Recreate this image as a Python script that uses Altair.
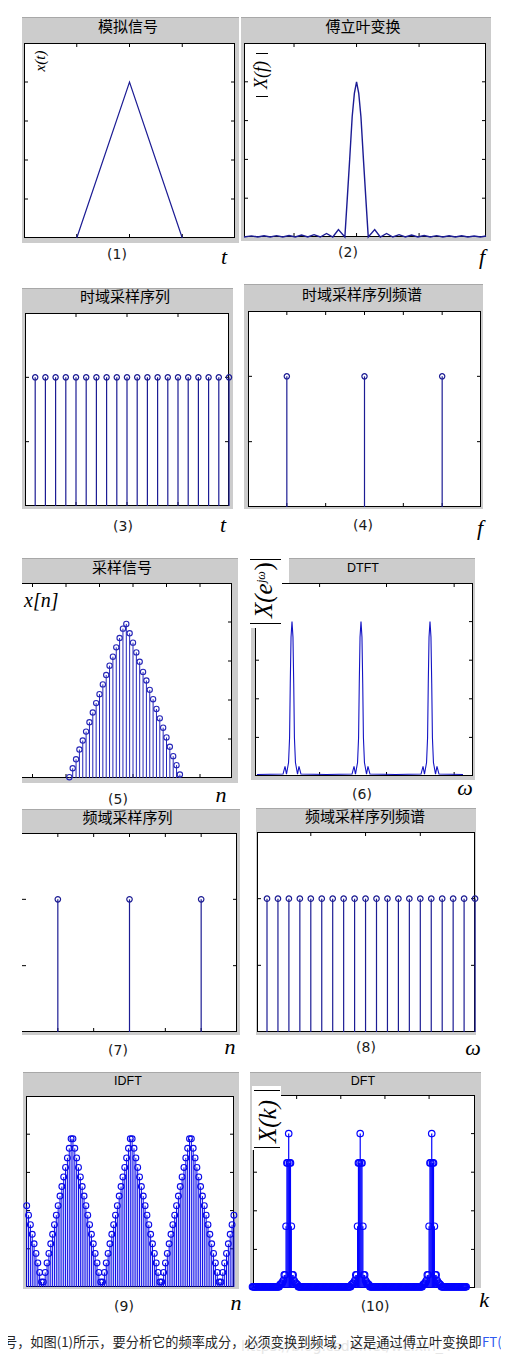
import altair as alt
import pandas as pd

# ====================== data ======================
# (1) analog signal x(t)
p1_t = [-2, 0, 2]
p1_x = [0.0, 0.8, 0.0]

# (2) |X(f)|
p2_f = [-1.80, -1.68, -1.58, -1.48, -1.38, -1.28, -1.18, -1.08, -0.98, -0.88,
        -0.78, -0.68, -0.58, -0.48, -0.38, -0.29, -0.187, -0.15, -0.11, -0.07,
        -0.035, 0.0, 0.035, 0.07, 0.11, 0.15, 0.187, 0.29, 0.38, 0.48,
        0.58, 0.68, 0.78, 0.88, 0.98, 1.08, 1.18, 1.28, 1.38, 1.48,
        1.58, 1.68, 1.78, 1.88, 1.98, 2.07]
p2_v = [0.0, 0.006, 0.0, 0.006, 0.0, 0.007, 0.0, 0.008, 0.0, 0.010,
        0.0, 0.012, 0.0, 0.018, 0.0, 0.038, 0.0, 0.19, 0.40, 0.62,
        0.74, 0.80, 0.74, 0.62, 0.40, 0.19, 0.0, 0.038, 0.0, 0.018,
        0.0, 0.012, 0.0, 0.010, 0.0, 0.008, 0.0, 0.007, 0.0, 0.006,
        0.0, 0.006, 0.0, 0.005, 0.0, 0.005]

# (3) time-domain sampling comb
p3_n = list(range(1, 21))
p3_v = [1, 1, 1, 1, 1, 1, 1, 1, 1, 1, 1, 1, 1, 1, 1, 1, 1, 1, 1, 1]

# (4) spectrum of the comb
p4_f = [-1, 0, 1]
p4_v = [1, 1, 1]

# (5) sampled signal x[n]
p5_n = list(range(1, 35))
p5_v = [0.02, 0.25, 0.48, 0.73, 0.96, 1.19, 1.43, 1.68, 1.92, 2.15, 2.40, 2.64,
        2.88, 3.11, 3.35, 3.59, 3.83, 3.95, 3.71, 3.47, 3.22, 2.98, 2.72, 2.50,
        2.26, 2.02, 1.77, 1.53, 1.29, 1.04, 0.80, 0.56, 0.33, 0.09]

# (6) DTFT: peak centres and the shape read around each peak
p6_centers = [-1, 0, 1]
p6_off = [-0.130, -0.101, -0.080, -0.050, -0.035, -0.025, -0.014, 0.0,
          0.014, 0.025, 0.035, 0.050, 0.080, 0.101, 0.130]
p6_val = [0.05, 0.25, 0.05, 0.35, 1.0, 2.4, 3.6, 4.0, 3.6, 2.4, 1.0, 0.35, 0.05, 0.25, 0.05]
p6_floor_w = [-1.507, -0.5, 0.5, 1.478]
p6_floor_v = [0.04, 0.04, 0.04, 0.04]

# (7) frequency-domain sampling comb
p7_n = [-1, 0, 1]
p7_v = [1, 1, 1]

# (8) its spectrum
p8_n = list(range(0, 20))
p8_v = [1, 1, 1, 1, 1, 1, 1, 1, 1, 1, 1, 1, 1, 1, 1, 1, 1, 1, 1, 1]

# (9) IDFT (time aliased triangles)
p9_n = list(range(0, 113))
p9_v = [2.13, 1.88, 1.63, 1.38, 1.13, 0.88, 0.63, 0.38, 0.13,
        0.13, 0.38, 0.63, 0.88, 1.13, 1.38, 1.63, 1.88, 2.13, 2.38, 2.63, 2.88, 3.13, 3.38, 3.63, 3.88,
        3.88, 3.63, 3.38, 3.13, 2.88, 2.63, 2.38, 2.13, 1.88, 1.63, 1.38, 1.13, 0.88, 0.63, 0.38, 0.13,
        0.13, 0.38, 0.63, 0.88, 1.13, 1.38, 1.63, 1.88, 2.13, 2.38, 2.63, 2.88, 3.13, 3.38, 3.63, 3.88,
        3.88, 3.63, 3.38, 3.13, 2.88, 2.63, 2.38, 2.13, 1.88, 1.63, 1.38, 1.13, 0.88, 0.63, 0.38, 0.13,
        0.13, 0.38, 0.63, 0.88, 1.13, 1.38, 1.63, 1.88, 2.13, 2.38, 2.63, 2.88, 3.13, 3.38, 3.63, 3.88,
        3.88, 3.63, 3.38, 3.13, 2.88, 2.63, 2.38, 2.13, 1.88, 1.63, 1.38, 1.13, 0.88, 0.63, 0.38, 0.13,
        0.13, 0.38, 0.63, 0.88, 1.13, 1.38, 1.63, 1.88]

# (10) DFT: floor level, peak bins and the values around each peak
p10_k = list(range(0, 243))
p10_floor = 0.03
p10_centers = [41, 122, 203]
p10_off = [-10, -9, -8, -7, -6, -5, -4, -3, -2, -1, 0, 1, 2, 3, 4, 5, 6, 7, 8, 9, 10]
p10_val = [0.08, 0.10, 0.12, 0.15, 0.20, 0.34, 0.34, 1.60, 3.24, 3.24, 4.00,
           3.24, 3.24, 1.60, 0.34, 0.34, 0.20, 0.15, 0.12, 0.10, 0.08]

titles = ["模拟信号", "傅立叶变换", "时域采样序列", "时域采样序列频谱", "采样信号",
          "DTFT", "频域采样序列", "频域采样序列频谱", "IDFT", "DFT"]
captions = ["(1)", "(2)", "(3)", "(4)", "(5)", "(6)", "(7)", "(8)", "(9)", "(10)"]
letters = ["t", "f", "t", "f", "n", "ω", "n", "ω", "n", "k"]
body_text_a = "信号，如图(1)所示，要分析它的频率成分，"
body_text_b = "必须变换到频域，这是通过傅立叶变换即"
link_text = "FT(F"
watermark = "https://blog.csdn.net/weixin_4"

# ====================== drawing helpers ======================
DUMMY = pd.DataFrame({"d": [0]})
CJK = "Noto Sans CJK SC"
SERIF = "Liberation Serif"
SANS = "Liberation Sans"
CAP = "DejaVu Sans"
GRAY = "#cccccc"
EDGE = "#a8a8a8"

LEFT0, SPLIT, RIGHT1 = 8, 240, 501
ROWS = [8, 280, 550, 807, 1065, 1318, 1350]


class Panel:
    def __init__(self, x0, x1, row):
        self.cx = x0
        self.w = x1 - x0
        self.ry = ROWS[row]
        self.h = ROWS[row + 1] - ROWS[row]
        self.layers = []

    def px(self, x):
        return x - self.cx

    def py(self, y):
        return y - self.ry

    def rect(self, x0, y0, x1, y1, fill):
        self.layers.append(alt.Chart(DUMMY).mark_rect(fill=fill).encode(
            x=alt.value(self.px(x0)), x2=alt.value(self.px(x1)),
            y=alt.value(self.py(y0)), y2=alt.value(self.py(y1))))

    def hline(self, x0, x1, y, color="black", w=1.0):
        self.layers.append(alt.Chart(DUMMY).mark_rule(color=color, strokeWidth=w).encode(
            x=alt.value(self.px(x0)), x2=alt.value(self.px(x1)), y=alt.value(self.py(y))))

    def vline(self, x, y0, y1, color="black", w=1.0):
        self.layers.append(alt.Chart(DUMMY).mark_rule(color=color, strokeWidth=w).encode(
            x=alt.value(self.px(x)), y=alt.value(self.py(y0)), y2=alt.value(self.py(y1))))

    def text(self, x, y, s, size, font, color="black", align="center",
             baseline="middle", angle=0, style="normal", clip=False):
        kw = dict(text=s, fontSize=size, font=font, color=color, align=align,
                  baseline=baseline, fontStyle=style)
        if angle:
            kw["angle"] = angle
        if clip:
            kw["clip"] = True
        self.layers.append(alt.Chart(DUMMY).mark_text(**kw).encode(
            x=alt.value(self.px(x)), y=alt.value(self.py(y))))

    def title(self, x, y, s, cjk=True):
        if cjk:
            self.text(x, y, s, 15, CJK)
        else:
            self.text(x, y, s, 12.5, SANS)

    def caption(self, x, y, s):
        self.text(x, y, s, 14, CAP, color="#1a1a1a")

    def letter(self, x, y, s):
        self.text(x, y, s, 22, SERIF, style="italic")

    def axes_box(self, box, xdom, ydom, xrange=None, sides="tblr"):
        x0, y0, x1, y1 = box
        self.box = box
        xr = xrange or (x0, x1)
        self.xs = alt.Scale(domain=list(xdom), range=[self.px(xr[0]), self.px(xr[1])],
                            nice=False, zero=False)
        self.ys = alt.Scale(domain=list(ydom), range=[self.py(y1), self.py(y0)],
                            nice=False, zero=False)
        self.rect(x0, y0, x1, y1, "white")
        if "t" in sides:
            self.hline(x0, x1, y0 + 0.5)
        if "b" in sides:
            self.hline(x0, x1, y1 - 0.5)
        if "l" in sides:
            self.vline(x0 + 0.5, y0, y1)
        if "r" in sides:
            self.vline(x1 - 0.5, y0, y1)

    def X(self, f):
        return alt.X(f, type="quantitative", scale=self.xs, axis=None)

    def Y(self, f):
        return alt.Y(f, type="quantitative", scale=self.ys, axis=None)

    def xticks(self, vals, top=True, bottom=True, L=4):
        x0, y0, x1, y1 = self.box
        df = pd.DataFrame({"v": vals})
        if top:
            self.layers.append(alt.Chart(df).mark_rule(color="black").encode(
                x=self.X("v"), y=alt.value(self.py(y0)), y2=alt.value(self.py(y0) + L)))
        if bottom:
            self.layers.append(alt.Chart(df).mark_rule(color="black").encode(
                x=self.X("v"), y=alt.value(self.py(y1)), y2=alt.value(self.py(y1) - L)))

    def yticks(self, vals, left=True, right=True, L=4):
        x0, y0, x1, y1 = self.box
        df = pd.DataFrame({"v": vals})
        if left:
            self.layers.append(alt.Chart(df).mark_rule(color="black").encode(
                y=self.Y("v"), x=alt.value(self.px(x0)), x2=alt.value(self.px(x0) + L)))
        if right:
            self.layers.append(alt.Chart(df).mark_rule(color="black").encode(
                y=self.Y("v"), x=alt.value(self.px(x1)), x2=alt.value(self.px(x1) - L)))

    def line(self, xs, ys, color, sw=1.2):
        df = pd.DataFrame({"x": xs, "y": ys}).sort_values("x")
        self.layers.append(alt.Chart(df).mark_line(color=color, strokeWidth=sw).encode(
            x=self.X("x"), y=self.Y("y")))

    def stems(self, xs, ys, color, size=28, sw=1.2, csw=1.2, sw_enc=None):
        df = pd.DataFrame({"x": xs, "y": ys})
        enc = dict(x=self.X("x"), y=self.Y("y"), y2=alt.datum(0))
        if sw_enc is not None:
            enc["strokeWidth"] = sw_enc
        self.layers.append(alt.Chart(df).mark_rule(color=color, strokeWidth=sw).encode(**enc))
        self.layers.append(alt.Chart(df).mark_point(
            shape="circle", filled=False, color=color, size=size, strokeWidth=csw, opacity=1
        ).encode(x=self.X("x"), y=self.Y("y")))

    def chart(self):
        return alt.layer(*self.layers).properties(width=self.w, height=self.h)


NAVY = "#1c1c94"

# ---------- (1) ----------
p1 = Panel(LEFT0, SPLIT, 0)
p1.rect(22, 17, 239, 243, GRAY)
p1.hline(22, 239, 17.5, EDGE)
p1.axes_box((24, 43, 235, 238), (-4, 4), (0, 1))
p1.xticks([-2, 0, 2])
p1.yticks([0.2, 0.4, 0.6, 0.8])
p1.line(p1_t, p1_x, NAVY)
p1.title(128, 26.5, titles[0])
p1.text(40, 61, "x(t)", 15, SERIF, style="italic", angle=270)
p1.caption(117, 255, captions[0])
p1.letter(224, 257, letters[0])

# ---------- (2) ----------
p2 = Panel(SPLIT, RIGHT1, 0)
p2.rect(241, 17, 491, 241, GRAY)
p2.hline(241, 491, 17.5, EDGE)
p2.axes_box((244, 43, 486, 237), (-1.8, 2.07), (0, 1))
p2.xticks([-1, 0, 1])
p2.yticks([0.2, 0.4, 0.6, 0.8])
p2.line(p2_f, p2_v, NAVY, sw=1.4)
p2.title(363, 26.5, titles[1])
p2.hline(256, 268, 53.5)
p2.hline(256, 268, 96.5)
p2.text(262, 75, "X(f)", 18, SERIF, style="italic", angle=270)
p2.caption(348, 253, captions[1])
p2.letter(482, 257, letters[1])

# ---------- (3) ----------
p3 = Panel(LEFT0, SPLIT, 1)
p3.rect(22, 288, 233, 509, GRAY)
p3.hline(22, 233, 288.5, EDGE)
p3.axes_box((25, 313, 229, 506), (0, 20), (0, 1.5))
p3.xticks([5, 10, 15])
p3.yticks([0.5, 1.0])
p3.stems(p3_n, p3_v, NAVY, size=28)
p3.title(125, 297, titles[2])
p3.caption(123, 527, captions[2])
p3.letter(223, 525, letters[2])

# ---------- (4) ----------
p4 = Panel(SPLIT, RIGHT1, 1)
p4.rect(244, 284, 483, 509, GRAY)
p4.hline(244, 483, 284.5, EDGE)
p4.axes_box((248, 311, 481, 507), (-1.5, 1.5), (0, 1.5))
p4.xticks([-1, -0.5, 0, 0.5, 1])
p4.yticks([0.5, 1.0])
p4.stems(p4_f, p4_v, NAVY, size=28,
         sw_enc=alt.condition("datum.x == 0", alt.value(2.8), alt.value(1.2)))
p4.title(362, 295, titles[3])
p4.caption(363, 526, captions[3])
p4.letter(480, 528, letters[3])

# ---------- (5) ----------
p5 = Panel(LEFT0, SPLIT, 2)
p5.rect(22, 558, 238, 583, GRAY)
p5.rect(232, 583, 238, 783, GRAY)
p5.rect(22, 778, 232, 783, GRAY)
p5.hline(22, 238, 558.5, EDGE)
n0, ppu = 66.0, 3.35
p5.axes_box((22, 583, 232, 778), ((22 - n0) / ppu, (232 - n0) / ppu), (0, 5), sides="tbr")
p5.xticks([-10, 0, 10, 20, 30, 40])
p5.yticks([1, 2, 3, 4], left=False)
p5.stems(p5_n, p5_v, "#2626b8", size=28, sw=1.0, csw=1.1)
p5.title(122, 568, titles[4])
p5.text(24, 607, "x[n]", 20, SERIF, style="italic", align="left", baseline="alphabetic")
p5.caption(118, 800, captions[4])
p5.letter(221, 795, letters[4])

# ---------- (6) ----------
p6 = Panel(SPLIT, RIGHT1, 2)
p6.rect(289, 558, 475, 583, GRAY)
p6.rect(251, 583, 255, 780, GRAY)
p6.rect(251, 776, 475, 780, GRAY)
p6.rect(473, 583, 475, 780, GRAY)
p6.hline(289, 475, 558.5, EDGE)
c6, u6 = 361.0, 69.0
p6.axes_box((255, 583, 473, 776), ((255 - c6) / u6, (473 - c6) / u6), (0, 5))
p6.xticks([-0.6, 0.37, 1.35])
p6.yticks([1, 2, 3, 4])
w6, v6 = list(p6_floor_w), list(p6_floor_v)
for c in p6_centers:
    for o, v in zip(p6_off, p6_val):
        w6.append(c + o)
        v6.append(v)
p6.line(w6, v6, "#1414c4", sw=1.1)
p6.title(363, 568, titles[5], cjk=False)
p6.rect(249, 556, 282, 628, "white")
p6.hline(250, 281, 559.5)
p6.hline(250, 281, 623.5)
p6.text(272, 618, "X(e", 25, SERIF, style="italic", angle=270, align="left", baseline="alphabetic")
p6.text(265, 583, "jω", 12, SERIF, style="italic", angle=270, align="left", baseline="alphabetic")
p6.text(272, 570.5, ")", 25, SERIF, angle=270, align="left", baseline="alphabetic")
p6.caption(362, 795, captions[5])
p6.letter(465, 788, letters[5])

# ---------- (7) ----------
p7 = Panel(LEFT0, SPLIT, 3)
p7.rect(22, 809, 240, 833, GRAY)
p7.rect(237, 833, 240, 1035, GRAY)
p7.rect(22, 1032, 237, 1035, GRAY)
p7.hline(22, 240, 809.5, EDGE)
p7.axes_box((22, 833, 237, 1032), (-1.5, 1.5), (0, 1.5), sides="tbr")
p7.xticks([-1, -0.5, 0, 0.5, 1])
p7.yticks([0.5, 1.0])
p7.stems(p7_n, p7_v, NAVY, size=30)
p7.title(127.5, 817.5, titles[6])
p7.caption(118, 1051, captions[6])
p7.letter(230, 1047, letters[6])

# ---------- (8) ----------
p8 = Panel(SPLIT, RIGHT1, 3)
p8.rect(256, 808, 476, 1035, GRAY)
p8.hline(256, 476, 808.5, EDGE)
k0, kp = 267.0, 10.95
p8.axes_box((257, 832, 475, 1032), ((257 - k0) / kp, (475 - k0) / kp), (0, 1.5))
p8.xticks([4, 9, 14], bottom=False)
p8.yticks([0.5, 1.0])
p8.stems(p8_n, p8_v, NAVY, size=30)
p8.title(365, 817, titles[7])
p8.caption(366, 1048, captions[7])
p8.letter(473, 1048, letters[7])

# ---------- (9) ----------
p9 = Panel(LEFT0, SPLIT, 4)
p9.rect(23, 1072, 239, 1289, GRAY)
p9.hline(23, 239, 1072.5, EDGE)
m0, mp = 26.7, 1.85
p9.axes_box((26, 1096, 234, 1287), ((26 - m0) / mp, (234 - m0) / mp), (0, 5))
p9.yticks([1, 2, 3, 4])
p9.stems(p9_n, p9_v, "#0a0ae8", size=34, sw=1.0, csw=1.1)
p9.title(128, 1081, titles[8], cjk=False)
p9.caption(124, 1307, captions[8])
p9.letter(236, 1303, letters[8])

# ---------- (10) ----------
p10 = Panel(SPLIT, RIGHT1, 4)
p10.rect(250, 1072, 481, 1095, GRAY)
p10.rect(250, 1095, 253, 1290, GRAY)
p10.rect(475, 1095, 481, 1288, GRAY)
p10.hline(250, 481, 1072.5, EDGE)
p10.axes_box((253, 1095, 475, 1288), (0, 252), (0, 5), xrange=(252.5, 475))
p10.xticks([50, 100, 150, 200], bottom=False)
p10.yticks([1, 2, 3, 4])
vals10 = {k: p10_floor for k in p10_k}
for c in p10_centers:
    for o, v in zip(p10_off, p10_val):
        vals10[c + o] = v
ks = sorted(vals10)
p10.stems(ks, [vals10[k] for k in ks], "#0505ff", size=42, sw=1.2, csw=1.2)
p10.title(363, 1081, titles[9], cjk=False)
p10.rect(252, 1086, 281, 1150, "white")
p10.hline(254, 280, 1090.5)
p10.hline(254, 280, 1147.5)
p10.text(276, 1143, "X(k)", 25, SERIF, style="italic", angle=270, align="left", baseline="alphabetic")
p10.caption(375, 1307, captions[9])
p10.letter(484, 1300, letters[9])

# ---------- text line under the figure, split at a character boundary between the two cells ----------
SPLIT_TXT = 244.4
ta = Panel(LEFT0, SPLIT, 5)
ta.text(SPLIT_TXT, 1343, body_text_a, 13.2, CJK, color="#262626", align="right", clip=True)
tb = Panel(SPLIT, RIGHT1, 5)
tb.text(241, 1347, watermark, 14, CAP, color="#e6e6e6", align="left")
tb.text(SPLIT_TXT, 1343, body_text_b, 13.2, CJK, color="#262626", align="left")
tb.text(482, 1343, link_text, 13.2, CJK, color="#2f5af0", align="left", clip=True)

cells = [p1.chart(), p2.chart(), p3.chart(), p4.chart(), p5.chart(), p6.chart(),
         p7.chart(), p8.chart(), p9.chart(), p10.chart(), ta.chart(), tb.chart()]

chart = alt.concat(*cells, columns=2, spacing=0, bounds="flush").properties(
    padding={"left": 0, "top": 0, "right": 0, "bottom": 0}
).configure_view(strokeWidth=0)

chart.save("out.html", embed_options={"renderer": "svg", "actions": False})
